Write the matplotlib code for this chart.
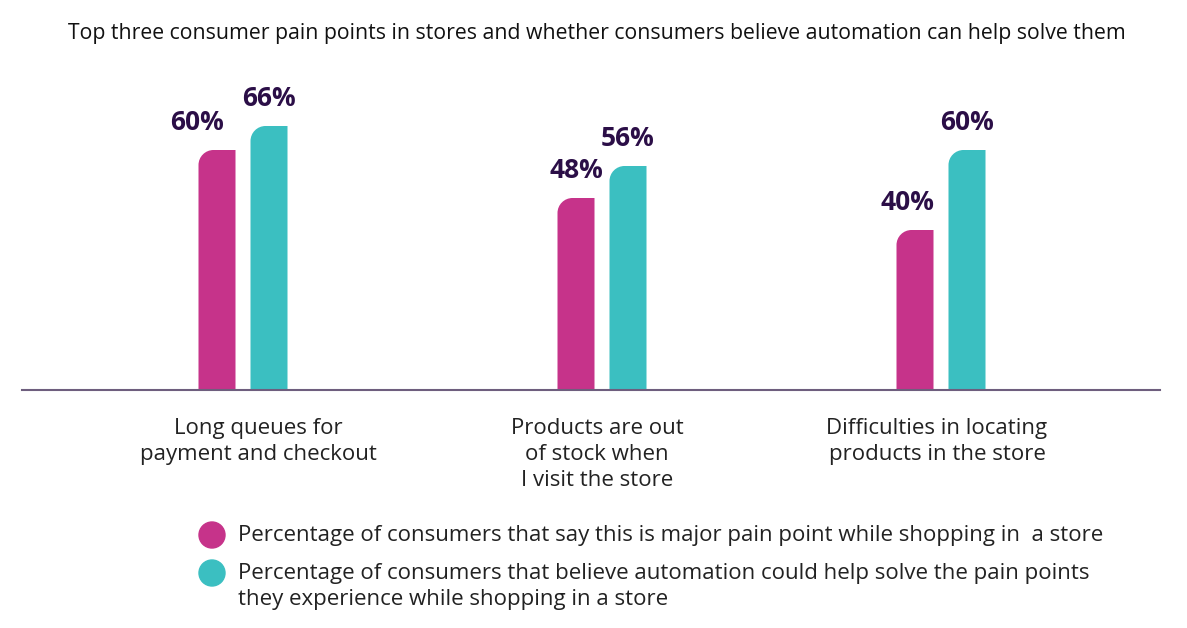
import numpy as np
import matplotlib
matplotlib.use("Agg")
import matplotlib.pyplot as plt
from matplotlib.path import Path
from matplotlib.patches import PathPatch, Ellipse

plt.rcParams["font.family"] = ["Open Sans", "DejaVu Sans"]

# data
categories = ["Long queues for\npayment and checkout",
              "Products are out\nof stock when\nI visit the store",
              "Difficulties in locating\nproducts in the store"]
pain_point = [60, 48, 40]
automation = [66, 56, 60]
series_labels = ["Percentage of consumers that say this is major pain point while shopping in  a store",
                 "Percentage of consumers that believe automation could help solve the pain points\nthey experience while shopping in a store"]

title = "Top three consumer pain points in stores and whether consumers believe automation can help solve them"

MAGENTA = "#C6338A"
TEAL = "#3BBFC1"
DARK = "#2B0E47"
TEXT = "#222222"

W, H = 1187, 628
fig = plt.figure(figsize=(W / 100, H / 100), dpi=100)
# axes in pixel layout: baseline at y=390, left 22, right 1160
ax = fig.add_axes([22 / W, 1 - 390 / H, (1160 - 22) / W, 280 / H])
ax.set_xlim(22, 1160)
ax.set_ylim(0, 70)

group_x = np.array([243, 602, 941])  # group centres (px layout)
offset = 26
width = 37

b1 = ax.bar(group_x - offset, pain_point, width, color=MAGENTA)
b2 = ax.bar(group_x + offset, automation, width, color=TEAL)


# swap the plain rectangles for bars with a rounded top-left corner
def round_top_left(rect, radius_px=15):
    x0, y0 = rect.get_x(), rect.get_y()
    w, h = rect.get_width(), rect.get_height()
    x1, top = x0 + w, y0 + h
    p0 = ax.transData.inverted().transform((0, 0))
    p1 = ax.transData.inverted().transform((radius_px, radius_px))
    rx, ry = p1[0] - p0[0], p1[1] - p0[1]
    k = 0.5523
    verts = [(x0, y0), (x1, y0), (x1, top), (x0 + rx, top),
             (x0 + rx - k * rx, top), (x0, top - ry + k * ry), (x0, top - ry),
             (x0, y0)]
    codes = [Path.MOVETO, Path.LINETO, Path.LINETO, Path.LINETO,
             Path.CURVE4, Path.CURVE4, Path.CURVE4, Path.CLOSEPOLY]
    patch = PathPatch(Path(verts, codes), facecolor=rect.get_facecolor(),
                      edgecolor="none", zorder=2)
    rect.set_visible(False)
    ax.add_patch(patch)


for r in list(b1) + list(b2):
    round_top_left(r)

# value labels
label_shift = [-20, 0, -8]
for i, r in enumerate(b1):
    ax.annotate(f"{pain_point[i]}%", (r.get_x() + width / 2, r.get_height()),
                xytext=(label_shift[i], 14), textcoords="offset pixels",
                ha="center", va="bottom", fontsize=19, fontweight="bold", color=DARK)
for i, r in enumerate(b2):
    ax.annotate(f"{automation[i]}%", (r.get_x() + width / 2, r.get_height()),
                xytext=(0, 14), textcoords="offset pixels",
                ha="center", va="bottom", fontsize=19, fontweight="bold", color=DARK)

# axis styling
for s in ["top", "right", "left"]:
    ax.spines[s].set_visible(False)
ax.spines["bottom"].set_color("#6E5E7E")
ax.spines["bottom"].set_linewidth(1.5)
ax.set_yticks([])
ax.set_xticks([])

cat_x = [258, 597, 937]
for cx, lab in zip(cat_x, categories):
    ax.annotate(lab, (cx, 0), xytext=(0, -28), textcoords="offset pixels",
                ha="center", va="top", fontsize=16, color=TEXT, linespacing=1.32)

fig.text(597 / W, 1 - 33 / H, title, ha="center", va="center", fontsize=15.3, color="#111111")

# legend drawn by hand
leg_y = [535, 573]
for yy, col, lab in zip(leg_y, [MAGENTA, TEAL], series_labels):
    fig.patches.append(Ellipse((212 / W, 1 - yy / H), 26 / W, 26 / H,
                               color=col, transform=fig.transFigure))
    fig.text(238 / W, 1 - (yy - 10) / H, lab, ha="left", va="top", fontsize=16,
             color=TEXT, linespacing=1.3)

fig.savefig("out.png", dpi=100)
